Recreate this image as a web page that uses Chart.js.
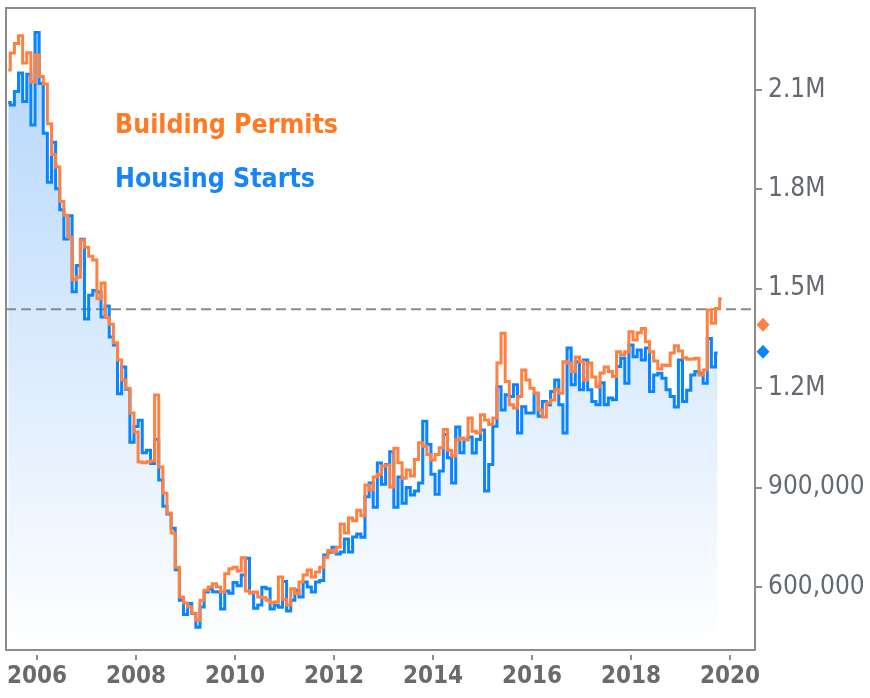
<!DOCTYPE html>
<html>
<head>
<meta charset="utf-8">
<script src="https://cdn.jsdelivr.net/npm/chart.js@4.4.1/dist/chart.umd.min.js"></script>
<style>
html,body{margin:0;padding:0;background:#ffffff;}
#wrap{width:870px;height:698px;position:relative;}
</style>
</head>
<body>
<div id="wrap"><canvas id="c"></canvas></div>
<script>
// ---- data (values in thousands of units, seasonally adjusted annual rate) ----
const seriesNames = ['Building Permits', 'Housing Starts'];
const firstYear = 2005;
const firstMonthIndex = 5; // June 2005

const buildingPermits = [
  2160, 2211, 2240, 2263, 2181, 2212, 2124,
  2205, 2140, 2118, 1998, 1905, 1867, 1763, 1722, 1655, 1527, 1535, 1647,
  1625, 1598, 1587, 1470, 1517, 1413, 1393, 1337, 1285, 1225, 1200, 1125,
  1068, 977, 975, 978, 980, 1179, 962, 883, 823, 763, 660, 570,
  552, 540, 521, 500, 560, 590, 600, 610, 600, 585, 640, 655,
  660, 648, 688, 588, 582, 585, 570, 568, 560, 552, 555, 630,
  562, 546, 595, 580, 615, 636, 651, 630, 645, 660, 690, 711,
  706, 720, 790, 763, 808, 800, 832, 815, 908, 893, 932, 940,
  965, 968, 902, 1019, 975, 928, 953, 935, 985, 1035, 1025, 1000,
  983, 1000, 1020, 1075, 1013, 995, 1044, 1050, 1045, 1110, 1070, 1065,
  1120, 1104, 1090, 1110, 1276, 1366, 1220, 1150, 1140, 1175, 1255, 1225,
  1200, 1185, 1134, 1113, 1155, 1164, 1195, 1185, 1280, 1276, 1250, 1294,
  1280, 1225, 1276, 1234, 1204, 1246, 1264, 1250, 1235, 1310, 1300, 1310,
  1370, 1345, 1367, 1380, 1340, 1310, 1282, 1258, 1270, 1268, 1306, 1328,
  1312, 1292, 1287, 1288, 1290, 1240, 1255, 1436, 1396, 1440, 1470
];

const housingStarts = [
  2062, 2054, 2095, 2151, 2065, 2147, 1994,
  2273, 2119, 1969, 1821, 1942, 1802, 1738, 1650, 1720, 1491, 1570, 1649,
  1409, 1480, 1495, 1490, 1415, 1448, 1354, 1330, 1183, 1264, 1197, 1037,
  1084, 1103, 1005, 1013, 973, 1046, 923, 844, 820, 777, 652, 560,
  517, 550, 520, 479, 540, 585, 594, 586, 585, 534, 588, 581,
  614, 604, 636, 687, 583, 536, 546, 599, 595, 534, 545, 539,
  617, 528, 560, 590, 570, 615, 600, 585, 615, 620, 697, 705,
  720, 700, 706, 745, 706, 751, 760, 750, 872, 914, 841, 974,
  910, 970, 1008, 841, 932, 853, 900, 878, 890, 914, 1100, 1030,
  940, 880, 950, 1060, 990, 914, 1083, 1005, 1044, 1053, 1004, 1045,
  1074, 890, 970, 1085, 1204, 1134, 1180, 1175, 1210, 1065, 1144, 1125,
  1125, 1185, 1115, 1160, 1150, 1190, 1225, 1150, 1065, 1321, 1210, 1280,
  1195, 1285, 1195, 1160, 1150, 1216, 1150, 1170, 1165, 1265, 1290, 1215,
  1330, 1295, 1315, 1285, 1321, 1190, 1240, 1245, 1230, 1195, 1175, 1143,
  1285, 1160, 1194, 1240, 1250, 1245, 1215, 1350, 1264, 1306
];

const yTickValues = [600, 900, 1200, 1500, 1800, 2100];
const xTickYears = [2006, 2008, 2010, 2012, 2014, 2016, 2018, 2020];
const referenceLevel = 1438;          // dashed horizontal line
const lastValueMarkers = [1391, 1310]; // diamonds beside the axis (permits, starts)

// ---- styling ----
const FONT = "'DejaVu Sans Condensed', 'DejaVu Sans', sans-serif";
const ORANGE_LINE = '#ff8040';
const BLUE_LINE = '#0a84ff';
const ORANGE_TEXT = '#ff7a22';
const BLUE_TEXT = '#1784f8';
const FRAME = '#8c8c8c';

// month positions (decimal years) derived from the first month
const monthPositions = buildingPermits.map((_, i) => firstYear + (firstMonthIndex + i) / 12);
const toPoints = arr => arr.map((v, i) => ({ x: monthPositions[i], y: v }));

function fmtY(v) {
  if (v >= 1000) return (v / 1000).toFixed(1) + 'M';
  return (v * 1000).toLocaleString('en-US');
}

const decor = {
  id: 'decor',
  beforeDatasetsDraw(chart) {
    const { ctx, chartArea: a, scales: { y } } = chart;
    const yy = y.getPixelForValue(referenceLevel);
    ctx.save();
    ctx.strokeStyle = '#8a8a8a';
    ctx.lineWidth = 2;
    ctx.setLineDash([10, 5]);
    ctx.beginPath();
    ctx.moveTo(a.left, yy);
    ctx.lineTo(a.right, yy);
    ctx.stroke();
    ctx.restore();
  },
  afterDatasetsDraw(chart) {
    const { ctx, chartArea: a } = chart;
    ctx.save();
    ctx.font = 'bold 26.5px ' + FONT;
    ctx.textAlign = 'left';
    ctx.textBaseline = 'alphabetic';
    ctx.fillStyle = ORANGE_TEXT;
    ctx.fillText(seriesNames[0], a.left + 109, a.top + 125);
    ctx.fillStyle = BLUE_TEXT;
    ctx.fillText(seriesNames[1], a.left + 109, a.top + 179);
    ctx.restore();
  },
  afterDraw(chart) {
    const { ctx, chartArea: a, scales: { x, y } } = chart;
    ctx.save();
    ctx.strokeStyle = FRAME;
    ctx.lineWidth = 2;
    ctx.strokeRect(a.left, a.top, a.right - a.left, a.bottom - a.top);
    // x tick marks (slightly detached below the frame)
    ctx.beginPath();
    xTickYears.forEach(t => {
      const px = Math.round(x.getPixelForValue(t));
      ctx.moveTo(px, a.bottom + 5);
      ctx.lineTo(px, a.bottom + 10);
    });
    ctx.stroke();
    // last value diamonds
    const cols = [ORANGE_LINE, BLUE_LINE];
    lastValueMarkers.forEach((v, i) => {
      const py = y.getPixelForValue(v);
      const px = a.right + 8;
      ctx.fillStyle = cols[i];
      ctx.beginPath();
      ctx.moveTo(px, py - 7);
      ctx.lineTo(px + 6.5, py);
      ctx.lineTo(px, py + 7);
      ctx.lineTo(px - 6.5, py);
      ctx.closePath();
      ctx.fill();
    });
    ctx.restore();
  }
};

function noPad(s) {
  s.paddingTop = 0; s.paddingBottom = 0; s.paddingLeft = 0; s.paddingRight = 0;
}

new Chart(document.getElementById('c'), {
  type: 'line',
  data: {
    datasets: [
      {
        label: seriesNames[0],
        data: toPoints(buildingPermits),
        borderColor: ORANGE_LINE,
        borderWidth: 3,
        pointRadius: 0,
        stepped: 'middle',
        fill: false
      },
      {
        label: seriesNames[1],
        data: toPoints(housingStarts),
        borderColor: BLUE_LINE,
        borderWidth: 3,
        pointRadius: 0,
        stepped: 'middle',
        fill: 'start',
        backgroundColor: (c) => {
          const ch = c.chart;
          const a = ch.chartArea;
          if (!a) return 'rgba(0,0,0,0)';
          const g = ch.ctx.createLinearGradient(0, a.top, 0, a.bottom);
          g.addColorStop(0, '#b0d4fb');
          g.addColorStop(1, '#ffffff');
          return g;
        }
      }
    ]
  },
  options: {
    responsive: true,
    maintainAspectRatio: false,
    animation: false,
    layout: { padding: { left: 6, top: 8, right: 0, bottom: 0 } },
    plugins: {
      legend: { display: false },
      tooltip: { enabled: false },
      filler: { drawTime: 'beforeDatasetsDraw' }
    },
    scales: {
      x: {
        type: 'linear',
        min: 2005.372,
        max: 2020.506,
        border: { display: false },
        grid: { drawOnChartArea: false, drawTicks: true, tickLength: 8, color: 'rgba(0,0,0,0)' },
        afterBuildTicks: s => { s.ticks = xTickYears.map(v => ({ value: v })); },
        afterFit: s => { s.height = 48; noPad(s); },
        ticks: {
          padding: 4,
          maxRotation: 0,
          autoSkip: false,
          color: '#6a6a6a',
          font: { family: FONT, size: 24, weight: 'bold' },
          callback: v => String(v)
        }
      },
      y: {
        position: 'right',
        min: 410,
        max: 2347,
        border: { display: false },
        grid: { drawOnChartArea: false, drawTicks: true, tickLength: 7, color: FRAME, lineWidth: 2 },
        afterBuildTicks: s => { s.ticks = yTickValues.map(v => ({ value: v })); },
        afterFit: s => { s.width = 115; noPad(s); },
        ticks: {
          padding: 6,
          color: '#656a72',
          font: { family: FONT, size: 26 },
          callback: v => fmtY(v)
        }
      }
    }
  },
  plugins: [decor]
});
</script>
</body>
</html>
